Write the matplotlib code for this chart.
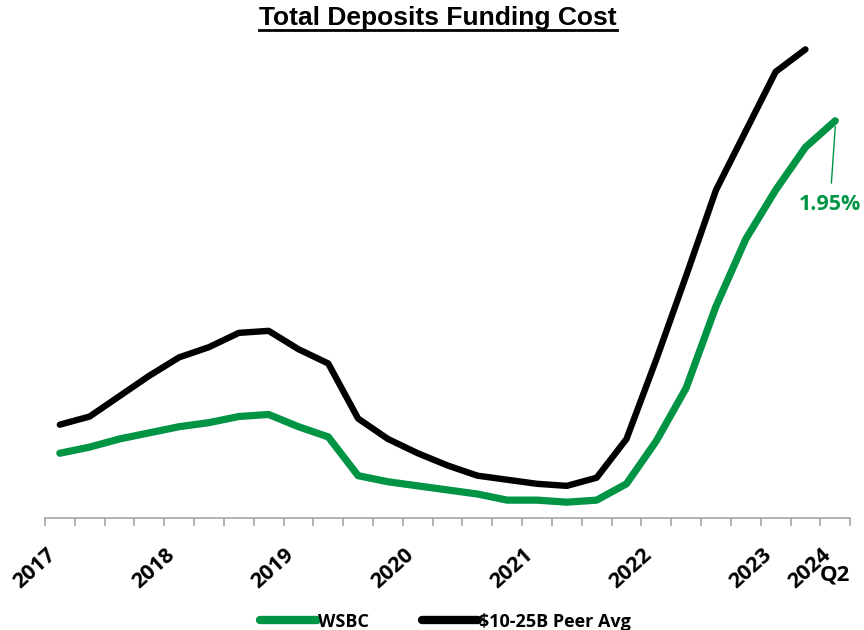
import matplotlib.pyplot as plt
import numpy as np
from matplotlib.lines import Line2D

# quarterly total deposit cost (%), 4Q17 .. 2Q24
quarters = ['4Q17', '1Q18', '2Q18', '3Q18', '4Q18', '1Q19', '2Q19', '3Q19', '4Q19',
            '1Q20', '2Q20', '3Q20', '4Q20', '1Q21', '2Q21', '3Q21', '4Q21',
            '1Q22', '2Q22', '3Q22', '4Q22', '1Q23', '2Q23', '3Q23', '4Q23',
            '1Q24', '2Q24']
wsbc = [0.32, 0.35, 0.39, 0.42, 0.45, 0.47, 0.50, 0.51, 0.45,
        0.40, 0.21, 0.18, 0.16, 0.14, 0.12, 0.09, 0.09,
        0.08, 0.09, 0.17, 0.38, 0.64, 1.04, 1.37, 1.61,
        1.82, 1.95]
peer = [0.46, 0.50, 0.60, 0.70, 0.79, 0.84, 0.91, 0.92, 0.83,
        0.76, 0.49, 0.39, 0.32, 0.26, 0.21, 0.19, 0.17,
        0.16, 0.20, 0.39, 0.78, 1.19, 1.61, 1.90, 2.19,
        2.30]
year_labels = ['2017', '2018', '2019', '2020', '2021', '2022', '2023', '2024']
year_pos = [0, 4, 8, 12, 16, 20, 24, 26]

green = '#009444'

plt.rcParams['font.family'] = ['Open Sans', 'DejaVu Sans']

fig = plt.figure(figsize=(8.64, 6.3), dpi=100)
ax = fig.add_axes([0.052, 0.177, 0.932, 0.777])

x = np.arange(len(quarters))
ax.plot(x, wsbc, color=green, lw=5.2, solid_capstyle='round', solid_joinstyle='round', zorder=3)
ax.plot(x[:len(peer)], peer, color='black', lw=4.6, solid_capstyle='round', solid_joinstyle='round', zorder=3)

ax.set_xlim(-0.5, len(quarters) - 0.5)
ax.set_ylim(0, 2.4)
for s in ['top', 'right', 'left']:
    ax.spines[s].set_visible(False)
ax.spines['bottom'].set_color('#a6a6a6')
ax.spines['bottom'].set_linewidth(1.2)
ax.set_yticks([])

ax.set_xticks(np.arange(-0.5, len(quarters)), minor=True)
ax.tick_params(axis='x', which='minor', length=6, width=1.2, color='#a6a6a6')
ax.set_xticks(year_pos)
ax.set_xticklabels(year_labels, rotation=42, ha='right', va='top',
                   fontsize=15.5, fontweight='bold')
ax.tick_params(axis='x', which='major', length=0, pad=18.5)

# second line of the last label
ax.annotate('Q2', xy=(26, 0), xycoords=('data', 'axes fraction'), xytext=(0, -46),
            textcoords='offset pixels', ha='center', va='top', fontsize=16, fontweight='bold')

# end-of-line value callout
ax.plot([26, 25.87], [1.92, 1.645], color=green, lw=1)
ax.text(25.82, 1.537, '1.95%', color=green, fontsize=15.5, fontweight='bold', ha='center', va='center')

# title with underline
title = fig.text(0.507, 0.972, 'Total Deposits Funding Cost', ha='center', va='center',
                 fontsize=19, fontweight='bold', family='Liberation Sans')
fig.canvas.draw()
bb = title.get_window_extent().transformed(fig.transFigure.inverted())
fig.add_artist(Line2D([bb.x0, bb.x1], [bb.y0 - 0.001, bb.y0 - 0.001], color='black', lw=2,
                      transform=fig.transFigure))

handles = [Line2D([], [], color=green, lw=6, solid_capstyle='round'),
           Line2D([], [], color='black', lw=6, solid_capstyle='round')]
fig.legend(handles, ['WSBC', '$10-25B Peer Avg'], loc='center', bbox_to_anchor=(0.516, 0.013),
           ncol=2, frameon=False, handlelength=3.15, handletextpad=0.05, columnspacing=2.9,
           prop={'size': 13, 'weight': 'bold'})

fig.savefig('out.png', dpi=100)
